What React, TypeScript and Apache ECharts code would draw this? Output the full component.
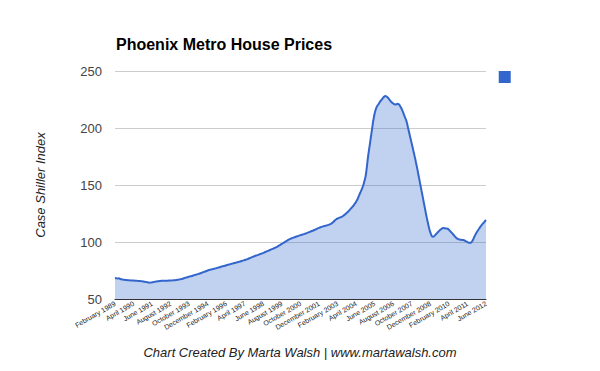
import React, { useEffect, useRef } from "react";
import * as echarts from "echarts";

const MONTH_NAMES = ["January", "February", "March", "April", "May", "June", "July", "August", "September", "October", "November", "December"];
const START_YEAR = 1989;
const START_MONTH = 1; // February (0-based)

const values1989 = [68.4, 68.2, 68.0, 68.1, 67.6, 67.3, 67.0, 66.8, 66.7, 66.6, 66.5];
const values1990 = [66.4, 66.3, 66.3, 66.2, 66.1, 66.0, 65.9, 65.8, 65.8, 65.6, 65.4, 65.2];
const values1991 = [65.0, 64.8, 64.5, 64.3, 64.4, 64.6, 64.9, 65.1, 65.3, 65.5, 65.6, 65.8];
const values1992 = [65.9, 65.9, 66.0, 66.0, 66.1, 66.1, 66.2, 66.3, 66.3, 66.4, 66.5, 66.6];
const values1993 = [66.8, 67.0, 67.2, 67.5, 67.8, 68.2, 68.6, 68.9, 69.3, 69.6, 69.9, 70.2];
const values1994 = [70.6, 71.0, 71.3, 71.6, 72.0, 72.4, 72.8, 73.3, 73.7, 74.1, 74.6, 75.0];
const values1995 = [75.4, 75.7, 76.0, 76.3, 76.6, 76.9, 77.3, 77.6, 77.9, 78.3, 78.6, 78.9];
const values1996 = [79.2, 79.6, 79.9, 80.2, 80.6, 80.9, 81.2, 81.5, 81.8, 82.1, 82.4, 82.8];
const values1997 = [83.1, 83.5, 83.9, 84.2, 84.6, 85.0, 85.5, 86.0, 86.5, 87.0, 87.5, 87.9];
const values1998 = [88.3, 88.7, 89.2, 89.6, 90.0, 90.5, 91.0, 91.5, 92.0, 92.5, 93.0, 93.5];
const values1999 = [94.0, 94.5, 95.0, 95.6, 96.3, 97.0, 97.7, 98.4, 99.1, 99.9, 100.6, 101.3];
const values2000 = [102.0, 102.6, 103.1, 103.6, 104.0, 104.4, 104.8, 105.2, 105.6, 106.0, 106.4, 106.7];
const values2001 = [107.1, 107.5, 108.0, 108.4, 108.9, 109.4, 109.8, 110.3, 110.8, 111.4, 111.9, 112.4];
const values2002 = [112.9, 113.3, 113.7, 114.0, 114.3, 114.6, 115.0, 115.5, 116.0, 116.8, 117.8, 119.0];
const values2003 = [120.0, 120.6, 121.1, 121.6, 122.0, 122.8, 123.6, 124.6, 125.7, 126.8, 128.0, 129.3];
const values2004 = [130.6, 132.0, 133.6, 135.4, 137.5, 140.2, 143.0, 145.6, 148.5, 152.5, 157.0, 165.0];
const values2005 = [175.0, 183.0, 191.0, 199.0, 207.0, 213.0, 217.0, 219.5, 221.0, 223.0, 224.5, 226.0];
const values2006 = [227.3, 228.0, 227.6, 226.5, 225.0, 223.5, 222.3, 221.5, 220.8, 220.6, 221.3, 221.0];
const values2007 = [219.5, 217.5, 215.0, 212.0, 209.0, 206.0, 201.0, 196.0, 191.0, 186.0, 181.0, 176.0];
const values2008 = [170.5, 165.0, 159.0, 153.0, 147.0, 141.0, 135.0, 129.0, 123.0, 117.5, 112.5, 108.5];
const values2009 = [105.5, 104.6, 105.2, 106.5, 107.8, 109.0, 110.2, 111.2, 112.0, 112.3, 112.0, 111.8];
const values2010 = [111.6, 110.8, 109.5, 108.2, 107.0, 105.6, 104.3, 103.2, 102.6, 102.2, 102.0, 101.8];
const values2011 = [101.7, 101.2, 100.5, 99.9, 99.4, 99.3, 99.8, 101.5, 104.0, 106.5, 108.5, 110.3];
const values2012 = [112.0, 113.8, 115.3, 116.6, 118.0, 119.3];

const indexValues = [
  ...values1989, ...values1990, ...values1991, ...values1992, ...values1993,
  ...values1994, ...values1995, ...values1996, ...values1997, ...values1998,
  ...values1999, ...values2000, ...values2001, ...values2002, ...values2003,
  ...values2004, ...values2005, ...values2006, ...values2007, ...values2008,
  ...values2009, ...values2010, ...values2011, ...values2012,
];

const categories: string[] = indexValues.map((_, i) => {
  const m = START_MONTH + i;
  return `${MONTH_NAMES[m % 12]} ${START_YEAR + Math.floor(m / 12)}`;
});

const FONT = 'Arial, "Liberation Sans", sans-serif';

export default function App() {
  const ref = useRef<HTMLDivElement>(null);
  useEffect(() => {
    if (!ref.current) return;
    const chart = echarts.init(ref.current, undefined, { renderer: "svg" });
    chart.setOption({
      animation: false,
      backgroundColor: "#ffffff",
      title: [
        {
          text: "Phoenix Metro House Prices",
          left: 111,
          top: 31,
          textStyle: { fontFamily: FONT, fontSize: 16, fontWeight: "bold", color: "#000" },
        },
        {
          text: "Chart Created By Marta Walsh | www.martawalsh.com",
          left: "center",
          top: 341,
          textStyle: { fontFamily: FONT, fontSize: 13, fontStyle: "italic", fontWeight: "normal", color: "#222" },
        },
      ],
      legend: {
        right: 79,
        top: 66,
        icon: "rect",
        itemWidth: 12,
        itemHeight: 12,
        data: [" "],
        textStyle: { fontSize: 1 },
      },
      grid: { left: 115, right: 114, top: 71, bottom: 72 },
      xAxis: {
        type: "category",
        data: categories,
        boundaryGap: false,
        axisLine: { lineStyle: { color: "#333", width: 1 } },
        axisTick: { show: false },
        axisLabel: {
          interval: 13,
          rotate: 30,
          fontSize: 7,
          fontFamily: FONT,
          color: "#222",
          margin: 4,
        },
      },
      yAxis: {
        type: "value",
        min: 50,
        max: 250,
        interval: 50,
        name: "Case Shiller Index",
        nameLocation: "middle",
        nameGap: 68,
        nameTextStyle: { fontFamily: FONT, fontSize: 13, fontStyle: "italic", color: "#222" },
        axisLine: { show: false },
        axisTick: { show: false },
        axisLabel: { fontFamily: FONT, fontSize: 13, color: "#444", margin: 13 },
        splitLine: { lineStyle: { color: "#cccccc", width: 1 } },
      },
      series: [
        {
          name: " ",
          type: "line",
          data: indexValues,
          showSymbol: false,
          smooth: true,
          lineStyle: { color: "#3366cc", width: 2 },
          itemStyle: { color: "#3366cc" },
          areaStyle: { color: "#3366cc", opacity: 0.3 },
        },
      ],
    });
    return () => chart.dispose();
  }, []);
  return <div ref={ref} style={{ width: 600, height: 371, position: "absolute", left: 0, top: 0 }} />;
}
